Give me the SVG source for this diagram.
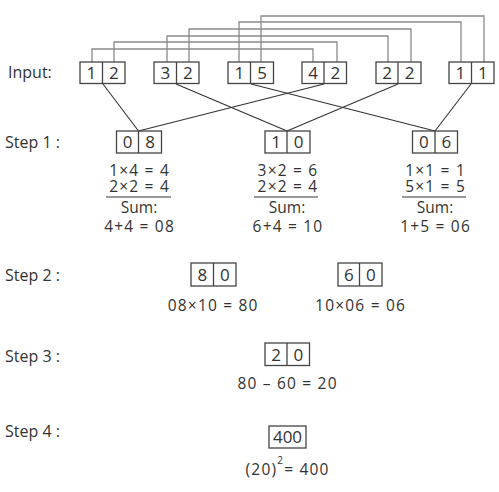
<svg xmlns="http://www.w3.org/2000/svg" width="499" height="492" viewBox="0 0 499 492">
<style>
text{font-family:"Open Sans","Noto Sans","DejaVu Sans",sans-serif;fill:#333}
.lbl{font-size:16px}
.d{font-size:17px;text-anchor:middle}
.t{font-size:15.5px;text-anchor:middle}
.e{font-size:15.5px;text-anchor:middle;letter-spacing:1.2px}
.s{letter-spacing:0}
.box{fill:none;stroke:#444;stroke-width:1.3}
.br{fill:none;stroke:#8a8a8a;stroke-width:1.3}
.cr{fill:none;stroke:#333;stroke-width:1.1}
.ul{stroke:#333;stroke-width:1.2}
</style>
<rect width="499" height="492" fill="#fff"/>
<g id="connectors">
<polyline class="br" points="92,62 92,49 313,49 313,62"/>
<polyline class="br" points="114,62 114,42 337,42 337,62"/>
<polyline class="br" points="167,62 167,36 388,36 388,62"/>
<polyline class="br" points="189,62 189,29 411,29 411,62"/>
<polyline class="br" points="239,62 239,22 461,22 461,62"/>
<polyline class="br" points="261,62 261,16 484,16 484,62"/>
<line class="cr" x1="103" y1="84" x2="138.5" y2="131"/>
<line class="cr" x1="324" y1="84" x2="138.5" y2="131"/>
<line class="cr" x1="176" y1="84" x2="287" y2="131"/>
<line class="cr" x1="398" y1="84" x2="287" y2="131"/>
<line class="cr" x1="251" y1="84" x2="435" y2="131"/>
<line class="cr" x1="471" y1="84" x2="435" y2="131"/>
</g>
<g id="labels">
<text class="lbl" x="8" y="78">Input:</text>
<text class="lbl" x="5" y="148">Step 1 :</text>
<text class="lbl" x="5" y="281">Step 2 :</text>
<text class="lbl" x="5" y="362">Step 3 :</text>
<text class="lbl" x="5" y="437">Step 4 :</text>
</g>
<g id="input-12">
<rect class="box" x="80" y="62" width="45" height="21.5"/><line class="box" x1="102.5" y1="62" x2="102.5" y2="83.5"/>
<text class="d" x="91.25" y="79">1</text><text class="d" x="113.75" y="79">2</text>
</g>
<g id="input-32">
<rect class="box" x="154" y="62" width="45" height="21.5"/><line class="box" x1="176.5" y1="62" x2="176.5" y2="83.5"/>
<text class="d" x="165.25" y="79">3</text><text class="d" x="187.75" y="79">2</text>
</g>
<g id="input-15">
<rect class="box" x="228" y="62" width="45.5" height="21.5"/><line class="box" x1="250.5" y1="62" x2="250.5" y2="83.5"/>
<text class="d" x="239.25" y="79">1</text><text class="d" x="262" y="79">5</text>
</g>
<g id="input-42">
<rect class="box" x="302" y="62" width="44.5" height="21.5"/><line class="box" x1="324" y1="62" x2="324" y2="83.5"/>
<text class="d" x="313" y="79">4</text><text class="d" x="335.25" y="79">2</text>
</g>
<g id="input-22">
<rect class="box" x="376" y="62" width="45" height="21.5"/><line class="box" x1="398" y1="62" x2="398" y2="83.5"/>
<text class="d" x="387" y="79">2</text><text class="d" x="409.5" y="79">2</text>
</g>
<g id="input-11">
<rect class="box" x="449" y="62" width="45" height="21.5"/><line class="box" x1="471.5" y1="62" x2="471.5" y2="83.5"/>
<text class="d" x="460.25" y="79">1</text><text class="d" x="482.75" y="79">1</text>
</g>
<g id="step1-08">
<rect class="box" x="116.5" y="131" width="45" height="22"/><line class="box" x1="138.5" y1="131" x2="138.5" y2="153"/>
<text class="d" x="127.5" y="148">0</text><text class="d" x="150" y="148">8</text>
<text class="e" x="139.6" y="176">1×4 = 4<tspan x="139.6" y="192">2×2 = 4</tspan><tspan class="s" x="139" y="213">Sum:</tspan><tspan x="139.6" y="232">4+4 = 08</tspan></text>
<line class="ul" x1="106" y1="197" x2="171" y2="197"/>
</g>
<g id="step1-10">
<rect class="box" x="265" y="131" width="45" height="22"/><line class="box" x1="287" y1="131" x2="287" y2="153"/>
<text class="d" x="276" y="148">1</text><text class="d" x="298.5" y="148">0</text>
<text class="e" x="288" y="176">3×2 = 6<tspan x="288" y="192">2×2 = 4</tspan><tspan class="s" x="287" y="213">Sum:</tspan><tspan x="288" y="232">6+4 = 10</tspan></text>
<line class="ul" x1="254" y1="197" x2="318" y2="197"/>
</g>
<g id="step1-06">
<rect class="box" x="412.5" y="131" width="45" height="22"/><line class="box" x1="435" y1="131" x2="435" y2="153"/>
<text class="d" x="423.75" y="148">0</text><text class="d" x="446.25" y="148">6</text>
<text class="e" x="435.6" y="176">1×1 = 1<tspan x="435.6" y="192">5×1 = 5</tspan><tspan class="s" x="435" y="213">Sum:</tspan><tspan x="435.6" y="232">1+5 = 06</tspan></text>
<line class="ul" x1="402" y1="197" x2="466" y2="197"/>
</g>
<g id="step2-80">
<rect class="box" x="191" y="263" width="45" height="23"/><line class="box" x1="213.5" y1="263" x2="213.5" y2="286"/>
<text class="d" x="202.25" y="281">8</text><text class="d" x="224.75" y="281">0</text>
<text class="e" x="213.2" y="311">08×10 = 80</text>
</g>
<g id="step2-60">
<rect class="box" x="338" y="263" width="44" height="23"/><line class="box" x1="359.5" y1="263" x2="359.5" y2="286"/>
<text class="d" x="348.75" y="281">6</text><text class="d" x="370.75" y="281">0</text>
<text class="e" x="360.6" y="311">10×06 = 06</text>
</g>
<g id="step3-20">
<rect class="box" x="265" y="343" width="44.5" height="22.5"/><line class="box" x1="287" y1="343" x2="287" y2="365.5"/>
<text class="d" x="276" y="361">2</text><text class="d" x="298.25" y="361">0</text>
<text class="e" x="287.6" y="389">80 – 60 = 20</text>
</g>
<g id="step4-400">
<rect class="box" x="269" y="426" width="37" height="22"/>
<text class="d" x="287.5" y="443">400</text>
<text class="e" x="287.6" y="475">(20)<tspan font-size="10" dy="-11">2</tspan><tspan dy="11">= 400</tspan></text>
</g>
</svg>
